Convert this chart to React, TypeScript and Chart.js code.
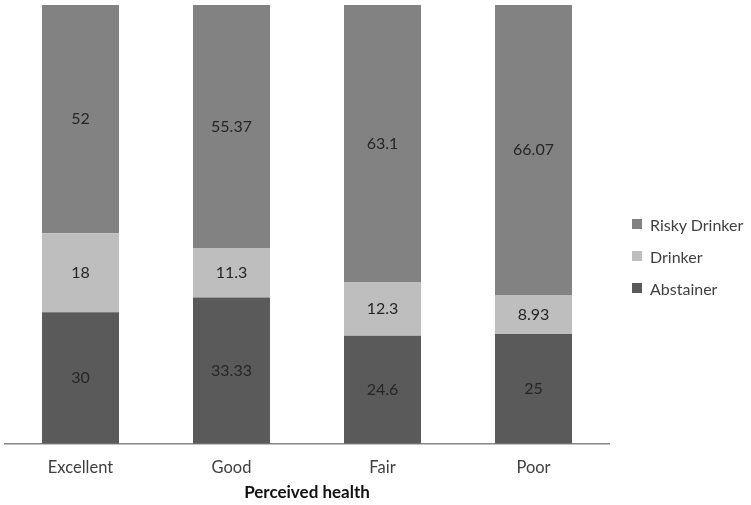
import React, { useEffect, useRef } from "react";
import { Chart, registerables } from "chart.js";

Chart.register(...registerables);

const categories = ["Excellent", "Good", "Fair", "Poor"];
const abstainer = [30, 33.33, 24.6, 25];
const drinker = [18, 11.3, 12.3, 8.93];
const riskyDrinker = [52, 55.37, 63.1, 66.07];
const seriesNames = ["Abstainer", "Drinker", "Risky Drinker"];
const seriesColors = ["#5a5a5a", "#bebebe", "#828282"];
const xAxisTitle = "Perceived health";

const FONT = "Lato, 'Open Sans', sans-serif";

const valueLabels = {
  id: "valueLabels",
  afterDatasetsDraw(chart: any) {
    const ctx = chart.ctx;
    ctx.save();
    ctx.font = `16px ${FONT}`;
    ctx.fillStyle = "#262626";
    ctx.textAlign = "center";
    ctx.textBaseline = "middle";
    chart.data.datasets.forEach((ds: any, di: number) => {
      const meta = chart.getDatasetMeta(di);
      meta.data.forEach((el: any, i: number) => {
        const p = el.getProps(["x", "y", "base"], true);
        ctx.fillText(String(ds.data[i]), p.x, (p.y + p.base) / 2);
      });
    });
    ctx.restore();
  },
};

export default function App() {
  const ref = useRef<HTMLCanvasElement>(null);
  useEffect(() => {
    document.body.style.margin = "0";
    const chart = new Chart(ref.current!, {
      type: "bar",
      data: {
        labels: categories,
        datasets: [abstainer, drinker, riskyDrinker].map((d, i) => ({
          label: seriesNames[i],
          data: d,
          backgroundColor: seriesColors[i],
          borderWidth: 0,
          categoryPercentage: 1,
          barPercentage: 0.51,
        })),
      },
      options: {
        responsive: false,
        animation: false,
        layout: { padding: { left: 5, top: 5, right: 142, bottom: 2 } },
        plugins: {
          legend: { display: false },
          tooltip: { enabled: false },
        },
        scales: {
          x: {
            stacked: true,
            grid: { display: false, drawTicks: false },
            border: { display: true, color: "#868686", width: 1.5 },
            ticks: { color: "#404040", font: { family: FONT, size: 16.5 }, padding: 14 },
            title: {
              display: true,
              text: xAxisTitle,
              color: "#111",
              font: { family: FONT, size: 17, weight: "bold" },
              padding: { top: -9, bottom: 0 },
            },
          },
          y: { stacked: true, display: false, min: 0, max: 100 },
        },
      },
      plugins: [valueLabels],
    });
    return () => chart.destroy();
  }, []);

  const legendItems = [...seriesNames].map((n, i) => ({ n, c: seriesColors[i] })).reverse();

  return (
    <div style={{ position: "relative", width: 751, height: 505, fontFamily: FONT }}>
      <canvas ref={ref} width={751} height={505} style={{ display: "block" }} />
      {legendItems.map((it, i) => (
        <div
          key={it.n}
          style={{
            position: "absolute",
            left: 632,
            top: 214 + i * 32,
            height: 20,
            display: "flex",
            alignItems: "center",
            fontSize: 16,
            color: "#404040",
            whiteSpace: "nowrap",
          }}
        >
          <span style={{ width: 10, height: 10, background: it.c, marginRight: 8, display: "inline-block" }} />
          {it.n}
        </div>
      ))}
    </div>
  );
}
